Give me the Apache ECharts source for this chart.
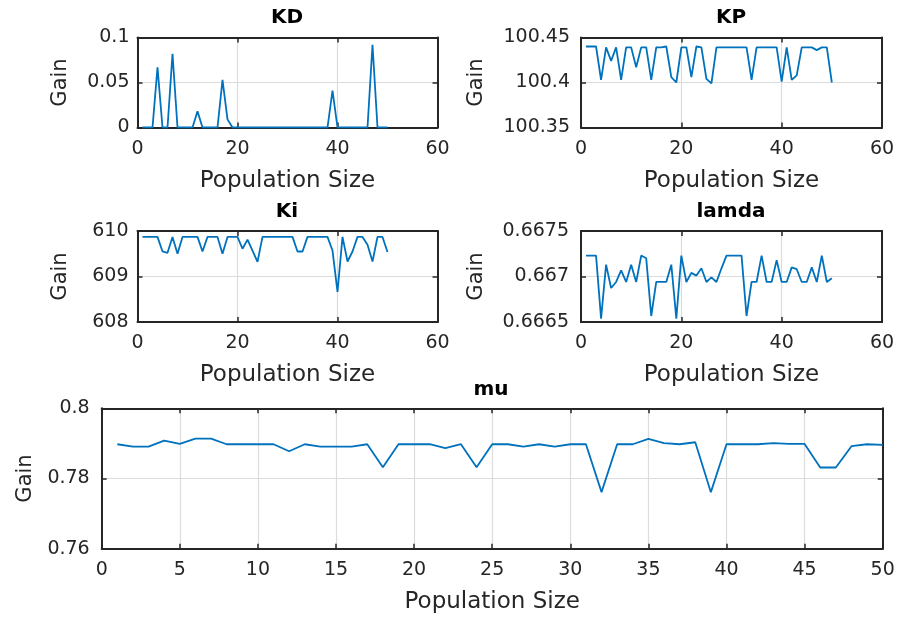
<!DOCTYPE html>
<html>
<head>
<meta charset="utf-8">
<script src="https://cdn.jsdelivr.net/npm/echarts@6/dist/echarts.min.js"></script>
<style>html,body{margin:0;padding:0;background:#fff;}#c{width:899px;height:617px;}</style>
</head>
<body>
<div id="c"></div>
<script>
// Population size (x values shared by all panels)
const popSize = [1,2,3,4,5,6,7,8,9,10,11,12,13,14,15,16,17,18,19,20,21,22,23,24,25,26,27,28,29,30,31,32,33,34,35,36,37,38,39,40,41,42,43,44,45,46,47,48,49,50];

const kdGain = [0,0,0,0.067,0,0,0.082,0,0,0,0,0.018,0,0,0,0,0.053,0.009,0,0,
  0,0,0,0,0,0,0,0,0,0,0,0,0,0,0,0,0,0,0.041,0,
  0,0,0,0,0,0,0.092,0,0,0];

const kpGain = [100.44,100.44,100.44,100.403,100.439,100.424,100.439,100.403,100.439,100.439,
  100.417,100.439,100.439,100.403,100.439,100.439,100.44,100.406,100.4,100.439,
  100.439,100.406,100.44,100.439,100.404,100.399,100.439,100.439,100.439,100.439,
  100.439,100.439,100.439,100.403,100.439,100.439,100.439,100.439,100.439,100.401,
  100.439,100.403,100.408,100.439,100.439,100.439,100.436,100.439,100.439,100.4];

const kiGain = [609.87,609.87,609.87,609.87,609.55,609.52,609.87,609.5,609.87,609.87,
  609.87,609.87,609.55,609.87,609.87,609.87,609.5,609.87,609.87,609.87,
  609.61,609.81,609.57,609.32,609.87,609.87,609.87,609.87,609.87,609.87,
  609.87,609.55,609.55,609.87,609.87,609.87,609.87,609.87,609.57,608.66,
  609.87,609.33,609.55,609.87,609.87,609.7,609.33,609.87,609.87,609.54];

const lamdaGain = [0.66723,0.66723,0.66723,0.666537,0.66713,0.666874,0.66694,0.667068,0.66694,0.66713,
  0.66694,0.66723,0.6672,0.666566,0.66694,0.66694,0.66694,0.66713,0.666537,0.66723,
  0.66694,0.66704,0.66701,0.66709,0.66694,0.66699,0.66694,0.66709,0.66723,0.66723,
  0.66723,0.66723,0.666566,0.66694,0.66694,0.66723,0.66694,0.66694,0.66718,0.66694,
  0.66694,0.6671,0.66708,0.66694,0.66694,0.6671,0.66694,0.66723,0.66694,0.66698];

const muGain = [0.78976,0.7891,0.7891,0.79081,0.78986,0.79137,0.79137,0.78976,0.78976,0.78976,
  0.78976,0.78777,0.78976,0.7891,0.7891,0.7891,0.78976,0.78322,0.78976,0.78976,
  0.78976,0.78863,0.78976,0.78322,0.78976,0.78976,0.7891,0.78976,0.7891,0.78976,
  0.78976,0.77611,0.78976,0.78976,0.79128,0.79005,0.78976,0.79033,0.77611,0.78976,
  0.78976,0.78976,0.79005,0.78986,0.78986,0.78313,0.78313,0.7892,0.78976,0.78957];

const titles = ['KD','KP','Ki','lamda','mu'];
const xTitle = 'Population Size';
const yTitle = 'Gain';

const panels = [
  {data: kdGain, grid:{left:137.5, top:37.5, width:300, height:90}, xmin:0, xmax:60, xint:20, ymin:0, ymax:0.1, yint:0.05, yGap:66, yMargin:8, title:[287,8]},
  {data: kpGain, grid:{left:581, top:37.5, width:301, height:90}, xmin:0, xmax:60, xint:20, ymin:100.35, ymax:100.45, yint:0.05, yGap:94, yMargin:11, title:[731,8]},
  {data: kiGain, grid:{left:137.5, top:231, width:300, height:91}, xmin:0, xmax:60, xint:20, ymin:608, ymax:610, yint:1, yGap:66, yMargin:9, title:[287,202]},
  {data: lamdaGain, grid:{left:581, top:231, width:301, height:91}, xmin:0, xmax:60, xint:20, ymin:0.6665, ymax:0.6675, yint:0.0005, yGap:94, yMargin:12, title:[731,202]},
  {data: muGain, grid:{left:101.7, top:408.3, width:781, height:140.4}, xmin:0, xmax:50, xint:5, ymin:0.76, ymax:0.8, yint:0.02, yGap:66, yMargin:12, title:[491,380]}
];

const FONT = 'DejaVu Sans';
const TXT = '#262626';
const fmt = v => String(parseFloat(Number(v).toFixed(6)));

const option = {animation:false, backgroundColor:'#fff', title:[], grid:[], xAxis:[], yAxis:[], series:[]};
panels.forEach((p, i) => {
  option.grid.push(Object.assign({containLabel:false}, p.grid));
  option.title.push({text:titles[i], left:p.title[0], top:p.title[1], textAlign:'center', padding:0,
    textStyle:{fontFamily:FONT, fontWeight:'bold', fontSize:20, color:'#000'}});
  const lineStyle = {color:TXT, width:2};
  const tick = {show:true, inside:true, length:5, lineStyle:{color:TXT, width:1.5}};
  // bottom x axis
  option.xAxis.push({type:'value', gridIndex:i, position:'bottom', min:p.xmin, max:p.xmax, interval:p.xint,
    axisLine:{show:true, onZero:false, lineStyle}, axisTick:tick,
    axisLabel:{fontFamily:FONT, fontSize:19, color:TXT, margin:12, formatter:fmt},
    splitLine:{show:true, lineStyle:{color:'#dcdcdc', width:1.2}},
    name:xTitle, nameLocation:'middle', nameGap:42, nameTextStyle:{fontFamily:FONT, fontSize:23, color:TXT}});
  // top x axis (frame + ticks)
  option.xAxis.push({type:'value', gridIndex:i, position:'top', min:p.xmin, max:p.xmax, interval:p.xint,
    axisLine:{show:true, onZero:false, lineStyle}, axisTick:tick, axisLabel:{show:false}, splitLine:{show:false}});
  // left y axis
  option.yAxis.push({type:'value', gridIndex:i, position:'left', min:p.ymin, max:p.ymax, interval:p.yint,
    axisLine:{show:true, onZero:false, lineStyle}, axisTick:tick,
    axisLabel:{fontFamily:FONT, fontSize:19, color:TXT, margin:p.yMargin, formatter:fmt},
    splitLine:{show:true, lineStyle:{color:'#dcdcdc', width:1.2}},
    name:yTitle, nameLocation:'middle', nameGap:p.yGap, nameRotate:90, nameTextStyle:{fontFamily:FONT, fontSize:21, color:TXT}});
  // right y axis (frame + ticks)
  option.yAxis.push({type:'value', gridIndex:i, position:'right', min:p.ymin, max:p.ymax, interval:p.yint,
    axisLine:{show:true, onZero:false, lineStyle}, axisTick:tick, axisLabel:{show:false}, splitLine:{show:false}});
  option.series.push({type:'line', xAxisIndex:2*i, yAxisIndex:2*i, showSymbol:false, symbol:'none',
    lineStyle:{color:'#0072BD', width:1.8}, itemStyle:{color:'#0072BD'},
    data: popSize.map((x, k) => [x, p.data[k]])});
});

const chart = echarts.init(document.getElementById('c'), null, {renderer:'canvas'});
chart.setOption(option);
</script>
</body>
</html>
